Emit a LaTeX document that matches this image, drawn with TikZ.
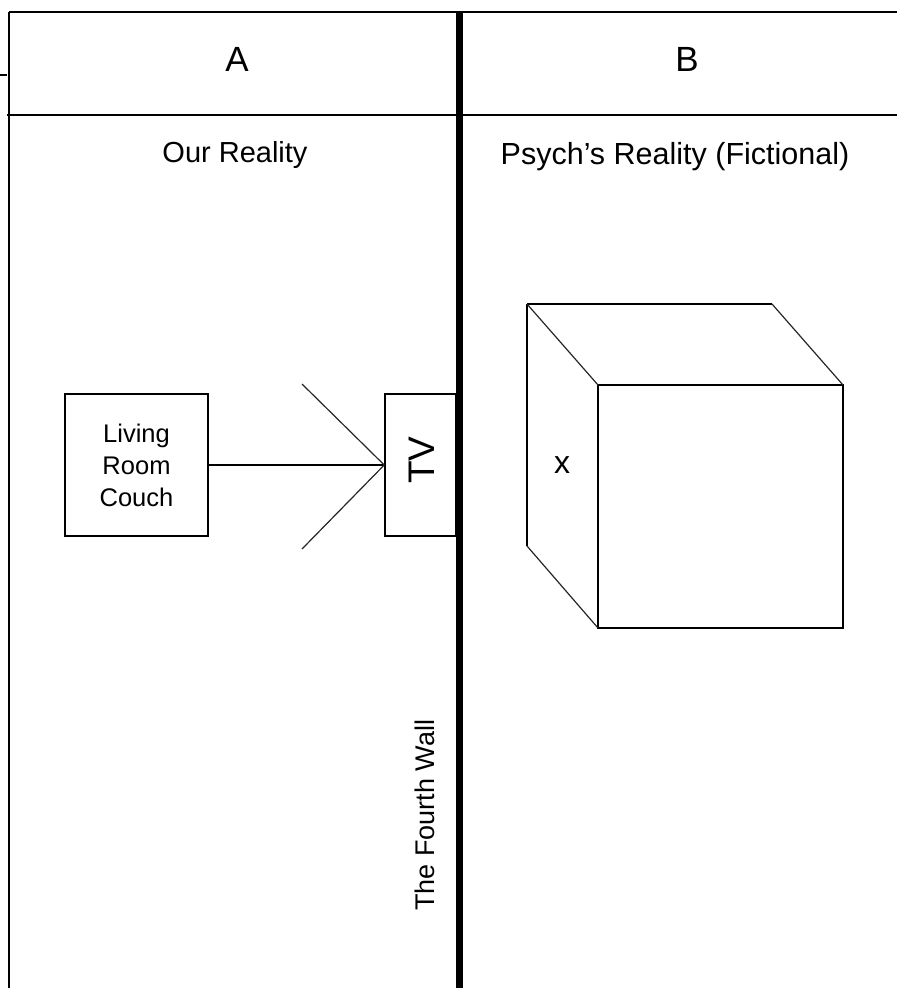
\documentclass[tikz,border=0pt]{standalone}
\usepackage{fontspec}
\setmainfont{Liberation Sans}
\usepackage{tikz}
\usetikzlibrary{positioning}

\begin{document}
\begin{tikzpicture}[x=1pt, y=-1pt, line width=1.5pt,
    every node/.style={inner sep=0pt},
    headtext/.style={font=\fontsize{35}{40}\selectfont},
    labeltext/.style={font=\fontsize{29}{34}\selectfont},
    boxnode/.style={draw, line width=1.5pt, align=center},
    beam/.style={line width=1.2pt, black!85}]
  \useasboundingbox (0,0) rectangle (897,988);

  % Frame and header
  \draw (9,12) -- (897,12);
  \draw (9,12) -- (9,988);
  \draw (0,75) -- (7,75);
  \draw (7,115) -- (897,115);
  \node[headtext] (colA) at (237,59) {A};
  \node[headtext] (colB) at (687,59) {B};
  \node[labeltext] (ours) at (235,155) {Our Reality};
  \node[labeltext, font=\fontsize{30.5}{34}\selectfont] (psych) at (675,157) {Psych’s Reality (Fictional)};

  % Left side: couch watching TV
  \node[boxnode, minimum width=143pt, minimum height=142pt,
        font=\fontsize{25.5}{32}\selectfont] (couch) at (136.5,465) {Living\\Room\\Couch};
  \node[boxnode, minimum width=71pt, minimum height=142pt] (tv) at (420.5,465) {};
  \node[rotate=90, font=\fontsize{37}{40}\selectfont] (tvtext) at (422,460) {TV};
  \draw (couch.east) -- (tv.west);
  \coordinate (beamtop) at (302,384);
  \coordinate (beambot) at (302,549);
  \draw[beam] (beamtop) -- (tv.west);
  \draw[beam] (beambot) -- (tv.west);

  % The fourth wall
  \draw[line width=7pt] (459,12) -- (459,988);
  \node[rotate=90, font=\fontsize{27}{30}\selectfont] (wall) at (425,815) {The Fourth Wall};

  % Right side: the cube
  \draw (598,385) rectangle (843,628);
  \draw (527,304) -- (772,304);
  \draw (527,304) -- (527,546);
  \draw[beam] (527,304) -- (598,385);
  \draw[beam] (772,304) -- (843,385);
  \draw[beam] (527,546) -- (598,628);
  \node[font=\fontsize{32}{34}\selectfont] (mark) at (562,465) {x};

\end{tikzpicture}
\end{document}
